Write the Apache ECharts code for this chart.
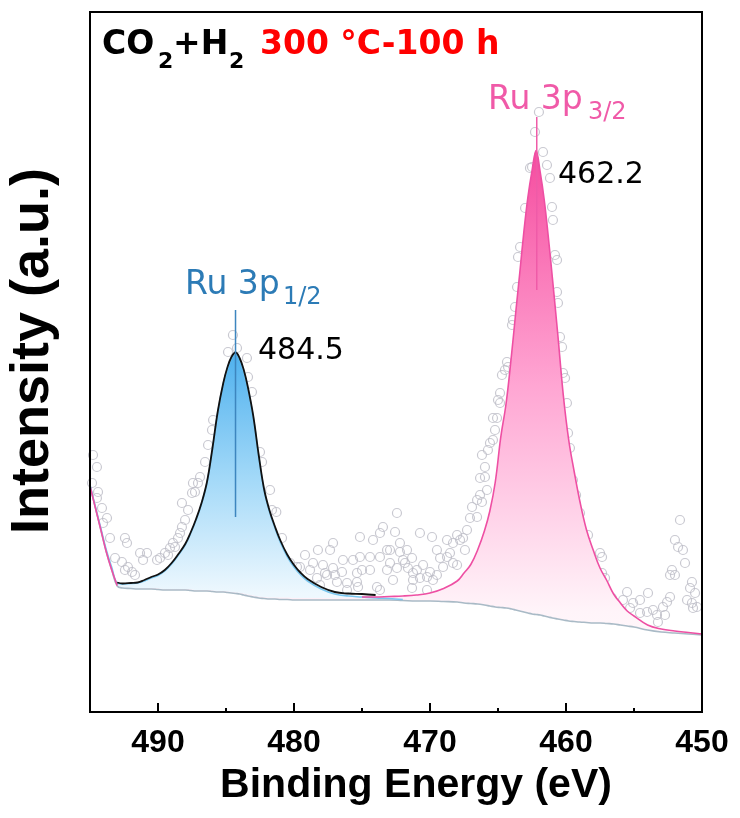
<!DOCTYPE html>
<html>
<head>
<meta charset="utf-8">
<script src="https://cdn.jsdelivr.net/npm/echarts@6/dist/echarts.min.js"></script>
<style>
  html, body { margin: 0; padding: 0; background: #fff; }
  #chart { width: 740px; height: 818px; }
</style>
</head>
<body>
<div id="chart"></div>
<script>
// binding energy grid of the fitted curves (eV)
const energy = [495, 494.6, 494.2, 493.8, 493.4, 493.0, 492.6, 492, 491.5, 491, 490.5, 490, 489.5, 489, 488.5, 488,
  487.6, 487.2, 486.8, 486.4, 486.0, 485.6, 485.2, 484.9, 484.6, 484.3, 484.0, 483.7, 483.4, 483.0, 482.6, 482.2,
  481.8, 481.4, 481.0, 480.5, 480, 479.5, 479, 478, 477, 476, 475, 474, 473, 472, 471, 470, 469, 468, 467.5, 467,
  466.5, 466, 465.6, 465.2, 464.8, 464.4, 464.0, 463.7, 463.4, 463.1, 462.8, 462.5, 462.2, 461.9, 461.6, 461.3,
  461.0, 460.6, 460.2, 459.8, 459.4, 459, 458.5, 458, 457.5, 457, 456.5, 456, 455.5, 455, 454, 453, 452, 451, 450];
// Shirley background
const background = [226, 204, 182, 160, 142, 126, 124, 123.5, 123, 123, 123, 122.5, 122, 122, 122, 122,
  121.5, 121, 121, 121, 120.5, 120, 120, 119.5, 119, 118.5, 118, 117, 116, 115, 114, 113.5,
  113, 113, 112.5, 112.5, 112, 112, 112, 112, 112, 112, 112, 112, 112, 111.5, 111, 111, 110.5, 110, 109, 108.5,
  108, 107, 106, 105, 104.5, 104, 103, 102, 101, 100, 99, 98, 97.5, 97, 96, 95,
  94, 93, 92, 91, 90.5, 90, 89.5, 89, 89, 88.5, 88, 87, 86, 85, 82, 80, 79, 78, 77];
// Ru 3p1/2 component (above background)
const peakRu12 = [1, 1, 1.5, 2, 2.5, 3, 4, 5, 6, 8, 11, 14, 19, 26, 35, 45,
  57, 71, 87, 108, 142, 180, 208, 224, 235, 240, 235, 224, 208, 180, 142, 108,
  87, 71, 57, 43, 33, 25, 19, 11, 6, 4, 3, 2, 1.5, 1, 1, 0.5, 0, 0, 0, 0,
  0, 0, 0, 0, 0, 0, 0, 0, 0, 0, 0, 0, 0, 0, 0, 0,
  0, 0, 0, 0, 0, 0, 0, 0, 0, 0, 0, 0, 0, 0, 0, 0, 0, 0, 0];
// Ru 3p3/2 component (above background)
const peakRu32 = [0, 0, 0, 0, 0, 0.5, 0.5, 0.5, 0.5, 1, 1, 1, 1, 1, 1, 1,
  1, 1, 1, 1, 1, 1, 1, 1, 1, 1, 1, 1.5, 1.5, 1.5, 1.5, 1.5,
  1.5, 1.5, 2, 2, 2, 2, 2, 2, 2, 2.5, 3, 3, 3.5, 4.5, 6, 8, 13, 21, 30, 39,
  54, 74, 95, 125, 170, 205, 255, 297, 338, 380, 416, 443, 464, 443, 416, 380,
  340, 284, 225, 181, 150, 122, 93, 73, 55, 43, 30, 22, 15, 11, 5, 3, 2, 1.5, 1];
// measured spectrum [eV, counts]
const rawSpectrum = [
  [494.78, 257], [494.49, 245], [494.85, 229], [494.41, 220], [494.49, 214], [494.12, 204], [493.75, 194], [494.04, 189], [493.53, 174],
  [492.43, 174], [492.28, 169], [493.16, 154], [492.65, 150], [492.21, 145], [491.91, 140], [491.69, 137], [492.43, 142],
  [491.32, 159], [490.81, 159], [491.10, 152], [490.07, 152], [489.85, 154], [489.49, 159], [489.12, 164], [488.90, 169],
  [489.26, 157], [488.75, 165], [488.53, 174], [488.38, 179], [488.24, 185], [488.01, 192], [488.24, 209], [487.79, 202],
  [487.50, 219], [487.28, 220], [487.06, 229], [487.43, 229], [486.91, 235], [486.54, 250], [486.32, 267], [486.03, 282], [485.95, 292],
  [484.49, 377], [484.85, 360], [484.19, 364], [483.46, 354], [483.38, 335], [483.09, 320],
  [482.50, 260], [482.35, 250], [481.76, 222], [481.62, 202], [481.30, 200], [480.88, 174], [480.29, 149], [479.78, 145],
  [479.19, 157], [479.56, 145], [478.82, 142], [478.60, 149], [478.31, 134], [478.24, 162], [478.09, 127], [477.87, 147],
  [477.57, 137], [477.72, 139], [477.35, 162], [477.13, 169], [477.13, 144], [476.99, 137], [476.84, 130], [476.47, 140],
  [476.40, 152], [476.10, 129], [476.10, 122], [475.66, 152], [475.37, 130], [475.37, 139], [475.29, 125], [475.15, 175],
  [475.15, 155], [475.00, 142], [474.41, 155], [474.41, 142], [474.19, 172], [473.90, 125], [473.68, 179], [473.68, 155],
  [473.68, 122], [473.46, 185], [473.16, 142], [473.16, 162], [472.94, 162], [472.94, 149], [472.72, 132], [472.57, 180],
  [472.43, 199], [472.43, 144], [472.21, 160], [472.21, 169], [471.99, 152], [471.84, 149], [471.69, 162], [471.62, 144],
  [471.32, 154], [471.25, 139], [471.25, 132], [471.32, 124], [470.96, 142], [470.74, 179], [470.74, 134], [470.51, 147],
  [470.22, 135], [470.22, 122], [470.00, 140], [469.85, 175], [469.78, 132], [469.49, 162], [469.49, 137], [469.26, 154],
  [469.04, 145], [468.75, 172], [468.75, 155], [468.53, 159], [468.31, 169], [468.31, 149], [468.01, 177], [468.01, 147],
  [467.79, 172], [467.57, 174], [467.43, 162], [467.28, 182], [467.06, 194], [466.91, 205], [466.54, 195], [466.54, 212],
  [466.32, 217], [466.18, 210], [466.32, 234], [465.96, 235], [465.81, 222], [465.96, 245], [466.18, 257], [465.74, 262],
  [465.59, 269], [465.37, 272], [465.22, 282], [465.07, 294], [465.37, 294], [464.85, 309],
  [465.00, 312], [464.85, 319], [464.71, 337], [464.49, 342], [464.26, 345], [464.34, 350], [463.97, 387], [463.90, 392],
  [463.75, 405], [463.60, 425], [463.53, 455], [463.38, 465], [463.01, 504], [462.65, 544], [462.50, 545], [462.28, 580], [461.99, 600],
  [461.69, 560], [461.40, 547], [461.18, 534], [461.03, 505], [460.96, 492], [460.81, 457], [460.66, 452], [460.66, 420],
  [460.59, 409], [460.44, 375], [460.29, 365], [460.22, 339], [460.07, 334], [459.93, 309], [459.85, 279], [459.71, 264],
  [459.49, 232], [459.26, 217], [458.97, 199], [458.38, 177],
  [457.50, 159], [457.35, 155], [457.35, 139], [457.13, 134], [456.62, 114], [455.81, 112], [455.51, 120], [455.29, 104],
  [455.07, 109], [454.56, 112], [454.56, 99], [454.04, 100], [453.97, 119], [453.60, 102], [453.31, 97], [453.24, 90],
  [452.87, 105], [452.72, 97], [452.57, 110], [452.35, 115], [452.35, 137], [452.21, 142], [451.99, 137], [451.99, 172],
  [451.76, 165], [451.62, 192], [451.40, 162], [451.25, 149], [451.10, 112], [450.88, 124], [450.74, 130], [450.74, 109],
  [450.66, 104], [450.51, 119], [450.37, 105]
];
const majorTicks = [450, 460, 470, 480, 490];
const minorTicks = [455, 465, 475, 485];
// vertical peak markers [eV, counts]
const markRu12 = [[484.3, 402], [484.3, 195]];
const markRu32 = [[462.15, 595], [462.15, 422]];

const FONT = "'Liberation Sans', Arial, sans-serif";
const LABEL_FONT = "'DejaVu Sans', sans-serif";

const baseLine = energy.map((e, i) => [e, background[i]]);
const fitRu12 = energy.map((e, i) => [e, background[i] + peakRu12[i]]);
const fitRu32 = energy.map((e, i) => [e, background[i] + peakRu32[i]]);
const envelope = energy
  .map((e, i) => [e, background[i] + peakRu12[i] + peakRu32[i]])
  .filter(d => d[0] <= 493 && d[0] >= 474);
// outlines only where each component is visible above the others
const lineRu12 = fitRu12.filter(d => d[0] >= 472);
const lineRu32 = fitRu32.map(d => (d[0] > 475 && d[0] < 493) ? [d[0], '-'] : d);

const chart = echarts.init(document.getElementById('chart'));

const txt = (text, x, y, size, color, weight, family) => ({
  type: 'text', x: x, y: y, silent: true,
  style: {text: text, fill: color, font: (weight || 'normal') + ' ' + size + 'px ' + (family || LABEL_FONT), verticalAlign: 'middle'}
});

const curve = (data, color, width, z) => ({
  type: 'line', data: data, smooth: 0.4, symbol: 'none', silent: true, z: z,
  lineStyle: {color: color, width: width}
});

const fill = (data, stops) => ({
  type: 'line', data: data, smooth: 0.4, symbol: 'none', silent: true, z: 2,
  lineStyle: {width: 0},
  areaStyle: {opacity: 1, color: new echarts.graphic.LinearGradient(0, 0, 0, 1, stops)}
});

const option = {
  animation: false,
  backgroundColor: '#fff',
  grid: {left: 90, right: 38, top: 12, bottom: 106, show: true, borderColor: '#000', borderWidth: 2, z: 10},
  xAxis: [
    {
      type: 'value', min: 450, max: 495, inverse: true, z: 10,
      axisLine: {lineStyle: {color: '#000', width: 2}},
      axisTick: {inside: true, length: 9, customValues: majorTicks, lineStyle: {color: '#000', width: 2}},
      axisLabel: {customValues: majorTicks, margin: 15, color: '#000', fontSize: 32, fontWeight: 'bold', fontFamily: FONT},
      splitLine: {show: false}
    },
    {
      type: 'value', min: 450, max: 495, inverse: true, position: 'bottom', z: 10,
      axisLine: {show: false},
      axisTick: {inside: true, length: 4, customValues: minorTicks, lineStyle: {color: '#000', width: 2}},
      axisLabel: {show: false},
      splitLine: {show: false}
    }
  ],
  yAxis: {
    type: 'value', min: 0, max: 700, z: 10,
    axisLine: {show: true, lineStyle: {color: '#000', width: 2}},
    axisTick: {show: false}, axisLabel: {show: false}, splitLine: {show: false}
  },
  series: [
    {
      type: 'scatter', data: rawSpectrum, symbol: 'circle', symbolSize: 9, z: 1, silent: true,
      itemStyle: {color: 'rgba(255,255,255,0)', borderColor: '#bbbbc6', borderWidth: 1.2}
    },
    fill(fitRu12, [
      {offset: 0, color: '#4fb1ee'},
      {offset: 0.35, color: '#a3d9f8'},
      {offset: 0.67, color: '#eef8fe'},
      {offset: 1, color: '#ffffff'}
    ]),
    fill(fitRu32, [
      {offset: 0, color: '#f54c9f'},
      {offset: 0.42, color: '#ffa6d3'},
      {offset: 0.82, color: '#fff4f9'},
      {offset: 1, color: '#ffffff'}
    ]),
    // white below the background line, and the background line itself
    {
      type: 'line', data: baseLine, smooth: 0.4, symbol: 'none', silent: true, z: 2,
      lineStyle: {color: '#a9bac6', width: 1.6},
      areaStyle: {opacity: 1, color: '#ffffff'}
    },
    curve(lineRu12, '#78c6ef', 1.6, 3),
    curve(lineRu32, '#ee4fa3', 1.6, 3),
    curve(envelope, '#111111', 1.8, 3),
    curve(markRu12, '#3d86bf', 1.5, 4),
    curve(markRu32, '#ef5ba8', 1.5, 4)
  ],
  graphic: [
    txt('CO', 102, 45, 33, '#000', 'bold'),
    txt('2', 158, 62, 22, '#000', 'bold'),
    txt('+H', 173, 45, 33, '#000', 'bold'),
    txt('2', 229, 62, 22, '#000', 'bold'),
    txt('300 \u00B0C-100 h', 260, 45, 33, '#ff0000', 'bold'),
    txt('Ru 3p', 185, 285, 33, '#2c7bb6'),
    txt('1/2', 283, 298, 24, '#2c7bb6'),
    txt('484.5', 258, 351, 30, '#000'),
    txt('Ru 3p', 488, 100, 33, '#f05aa8'),
    txt('3/2', 588, 113, 24, '#f05aa8'),
    txt('462.2', 558, 175, 30, '#000'),
    {
      type: 'text', x: 416, y: 786, silent: true,
      style: {text: 'Binding Energy (eV)', fill: '#000', font: 'bold 41px ' + FONT, align: 'center', verticalAlign: 'middle'}
    },
    {
      type: 'text', x: 33, y: 351, rotation: Math.PI / 2, silent: true,
      style: {text: 'Intensity (a.u.)', fill: '#000', font: 'bold 54px ' + FONT, align: 'center', verticalAlign: 'middle'}
    }
  ]
};

chart.setOption(option);
</script>
</body>
</html>
